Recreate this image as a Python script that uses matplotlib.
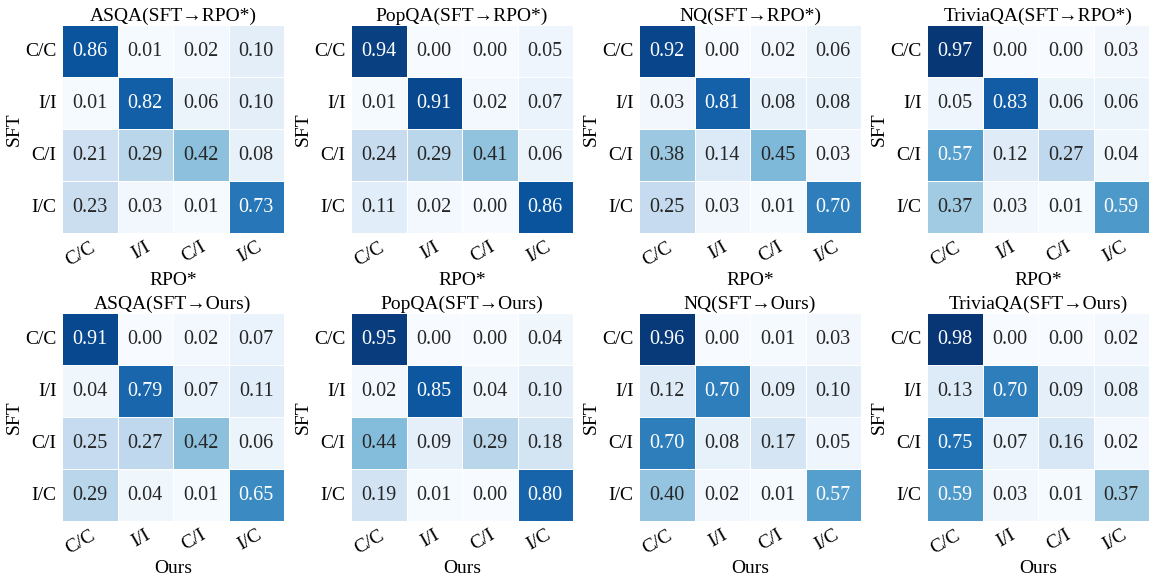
import numpy as np
import matplotlib
matplotlib.use("Agg")
import matplotlib.pyplot as plt
import seaborn as sns

plt.rcParams['font.family'] = ['Liberation Serif', 'DejaVu Serif']
plt.rcParams['font.size'] = 14

labels = ["C/C", "I/I", "C/I", "I/C"]
datasets = ["ASQA", "PopQA", "NQ", "TriviaQA"]

asqa_rpo = [[0.86, 0.01, 0.02, 0.10], [0.01, 0.82, 0.06, 0.10], [0.21, 0.29, 0.42, 0.08], [0.23, 0.03, 0.01, 0.73]]
popqa_rpo = [[0.94, 0.00, 0.00, 0.05], [0.01, 0.91, 0.02, 0.07], [0.24, 0.29, 0.41, 0.06], [0.11, 0.02, 0.00, 0.86]]
nq_rpo = [[0.92, 0.00, 0.02, 0.06], [0.03, 0.81, 0.08, 0.08], [0.38, 0.14, 0.45, 0.03], [0.25, 0.03, 0.01, 0.70]]
trivia_rpo = [[0.97, 0.00, 0.00, 0.03], [0.05, 0.83, 0.06, 0.06], [0.57, 0.12, 0.27, 0.04], [0.37, 0.03, 0.01, 0.59]]

asqa_ours = [[0.91, 0.00, 0.02, 0.07], [0.04, 0.79, 0.07, 0.11], [0.25, 0.27, 0.42, 0.06], [0.29, 0.04, 0.01, 0.65]]
popqa_ours = [[0.95, 0.00, 0.00, 0.04], [0.02, 0.85, 0.04, 0.10], [0.44, 0.09, 0.29, 0.18], [0.19, 0.01, 0.00, 0.80]]
nq_ours = [[0.96, 0.00, 0.01, 0.03], [0.12, 0.70, 0.09, 0.10], [0.70, 0.08, 0.17, 0.05], [0.40, 0.02, 0.01, 0.57]]
trivia_ours = [[0.98, 0.00, 0.00, 0.02], [0.13, 0.70, 0.09, 0.08], [0.75, 0.07, 0.16, 0.02], [0.59, 0.03, 0.01, 0.37]]

rows = [("RPO*", [asqa_rpo, popqa_rpo, nq_rpo, trivia_rpo]),
        ("Ours", [asqa_ours, popqa_ours, nq_ours, trivia_ours])]

W, H = 1149, 577
fig = plt.figure(figsize=(W / 100, H / 100), dpi=100)

lefts = [62, 351, 639, 927]
tops = [25, 313]
aw, ah = 222, 208

for r, (method, mats) in enumerate(rows):
    for c, (name, m) in enumerate(zip(datasets, mats)):
        ax = fig.add_axes([lefts[c] / W, (H - tops[r] - ah) / H, aw / W, ah / H])
        sns.heatmap(np.array(m), ax=ax, cmap="Blues", vmin=0, vmax=1, annot=True, fmt=".2f",
                    cbar=False, linewidths=0.6, linecolor="white",
                    annot_kws={"fontsize": 14.5, "family": ['Liberation Serif', 'DejaVu Serif']},
                    xticklabels=labels, yticklabels=labels)
        ax.set_title(f"{name}(SFT→{method})", fontsize=14, pad=2)
        ax.set_xlabel(method, fontsize=14, labelpad=2)
        ax.set_ylabel("SFT", fontsize=14, labelpad=2)
        ax.tick_params(length=0, labelsize=14, pad=4)
        plt.setp(ax.get_xticklabels(), rotation=30, ha="right", rotation_mode="anchor")
        plt.setp(ax.get_yticklabels(), rotation=0)

fig.savefig("out.png", dpi=100)
